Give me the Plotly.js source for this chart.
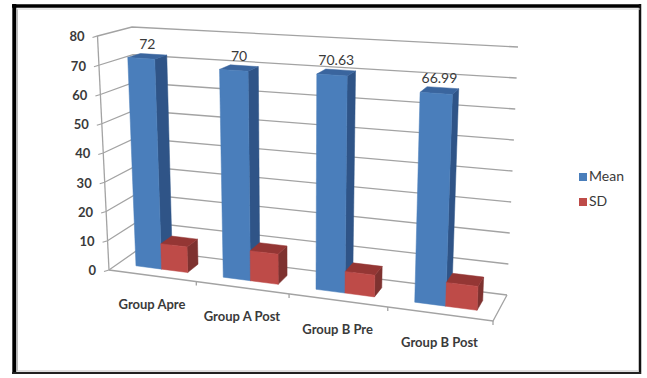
<!DOCTYPE html>
<html>
<head>
<meta charset="utf-8">
<script src="https://cdn.plot.ly/plotly-3.0.1.min.js"></script>
<style>html,body{margin:0;padding:0;background:#fff}#chart{width:647px;height:378px}</style>
</head>
<body>
<div id="chart"></div>
<script>
// Chart values
const categories = ["Group Apre", "Group A Post", "Group B Pre", "Group B Post"];
const meanValues = [72, 70, 70.63, 66.99];
const sdValues = [8.7, 10, 7, 7.5];
const meanLabels = ["72", "70", "70.63", "66.99"];
const valueTicks = [0, 10, 20, 30, 40, 50, 60, 70, 80];
const seriesNames = ["Mean", "SD"];

// Box of the 3D plot on the page: corners of the floor and of the 80 level
const VMAX = 80;
const floorFL = [109, 270], floorFR = [493, 321], floorBL = [139, 249], floorBR = [507, 295];
const roofFL = [97.5, 36], roofFR = [504, 61], roofBL = [132, 27], roofBR = [518, 47];

const mix = (a, b, f) => [a[0] + (b[0] - a[0]) * f, a[1] + (b[1] - a[1]) * f];
// Category axis foreshortens slightly from left to right
function warp(u) { const f = u / categories.length, k = 0.883; return f * k / (1 + (k - 1) * f); }
// Category position, value, depth (0 front, 1 back) to plot coordinates
function project(u, v, w) {
  const t = warp(u), h = v / VMAX;
  const floor = mix(mix(floorFL, floorFR, t), mix(floorBL, floorBR, t), w);
  const roof = mix(mix(roofFL, roofFR, t), mix(roofBL, roofBR, t), w);
  return mix(floor, roof, h);
}

const FONT = "Lato, 'Liberation Sans', sans-serif";
const traces = [];
function poly(points, color) {
  traces.push({
    x: points.map(p => p[0]).concat(points[0][0]),
    y: points.map(p => p[1]).concat(points[0][1]),
    mode: "lines", fill: "toself", fillcolor: color,
    line: { width: 0.5, color: color }, hoverinfo: "skip", showlegend: false
  });
}
function path(points, width) {
  traces.push({
    x: points.map(p => p[0]), y: points.map(p => p[1]),
    mode: "lines", line: { width: width || 1.3, color: "#a3a3a3" },
    hoverinfo: "skip", showlegend: false
  });
}
function label(pt, text, size, position, weight) {
  traces.push({
    x: [pt[0]], y: [pt[1]], text: [text], mode: "text", textposition: position || "middle center",
    textfont: { family: FONT, size: size, color: "#3a3a3a", weight: weight || 700 },
    hoverinfo: "skip", showlegend: false
  });
}
function shift(p, dx, dy) { return [p[0] + dx, p[1] + dy]; }

// Walls and floor
valueTicks.forEach(v => {
  path([shift(project(0, v, 0), -5, 1.5), project(0, v, 0), project(0, v, 1), project(categories.length, v, 1)]);
  label(shift(project(0, v, 0), -13, 2), String(v), 13, "middle left");
});
path([project(0, 0, 0), project(0, VMAX, 0)]);
path([project(0, 0, 0), project(categories.length, 0, 0), project(categories.length, 0, 1)]);
for (let i = 1; i <= categories.length; i++) {
  const p = project(i, 0, 0);
  path([p, shift(p, 0, 4)]);
}

// One box per value, painted back to front
const BAR_W = 0.3, BAR_START = 0.21, W0 = 0.31, W1 = 0.69;
function box(u, v, front, side, top) {
  const a = u, b = u + BAR_W;
  poly([project(b, 0, W0), project(b, 0, W1), project(b, v, W1), project(b, v, W0)], side);
  poly([project(a, v, W0), project(b, v, W0), project(b, v, W1), project(a, v, W1)], top);
  poly([project(a, 0, W0), project(b, 0, W0), project(b, v, W0), project(a, v, W0)], front);
}
categories.forEach((c, i) => {
  box(i + BAR_START, meanValues[i], "#4a7ebb", "#2f5487", "#3a659e");
  box(i + BAR_START + BAR_W, sdValues[i], "#be4b48", "#7e3230", "#943634");
  label(shift(project(i + BAR_START + BAR_W / 2, meanValues[i], 0.5), 0, -11), meanLabels[i], 14, "middle center", 400);
  label(shift(project(i + 0.5, 0, 0), 0, 30), c, 13);
});

// Legend
const legendColors = ["#4a7ebb", "#be4b48"];
seriesNames.forEach((name, i) => {
  const y = 177 + i * 25;
  traces.push({
    x: [583], y: [y], mode: "markers+text", text: [name], textposition: "middle right",
    marker: { symbol: "square", size: 8, color: legendColors[i] },
    textfont: { family: FONT, size: 14, color: "#3a3a3a", weight: 400 },
    hoverinfo: "skip", showlegend: false
  });
});

// Page frame: heavy black border, thin grey rule inside it
const frameLine = (x0, y0, x1, y1, color, width) =>
  ({ type: "line", x0, y0, x1, y1, line: { color, width } });

const layout = {
  width: 647, height: 378,
  margin: { l: 0, r: 0, t: 0, b: 0 },
  paper_bgcolor: "#ffffff", plot_bgcolor: "#ffffff",
  xaxis: { range: [0, 647], visible: false, fixedrange: true },
  yaxis: { range: [378, 0], visible: false, fixedrange: true },
  showlegend: false,
  shapes: [
    frameLine(14.3, 4, 14.3, 374, "#000000", 4),
    frameLine(12, 6, 641, 6, "#000000", 3.5),
    frameLine(640, 4, 640, 374, "#111111", 2.5),
    frameLine(12, 373, 641, 373, "#222222", 2.2),
    frameLine(17.5, 9, 17.5, 371, "#bdbdbd", 1),
    frameLine(17, 9, 640, 9, "#d0d0d0", 1),
    frameLine(17, 371, 638, 371, "#bdbdbd", 1)
  ]
};
Plotly.newPlot("chart", traces, layout, { displayModeBar: false, staticPlot: true });
</script>
</body>
</html>
